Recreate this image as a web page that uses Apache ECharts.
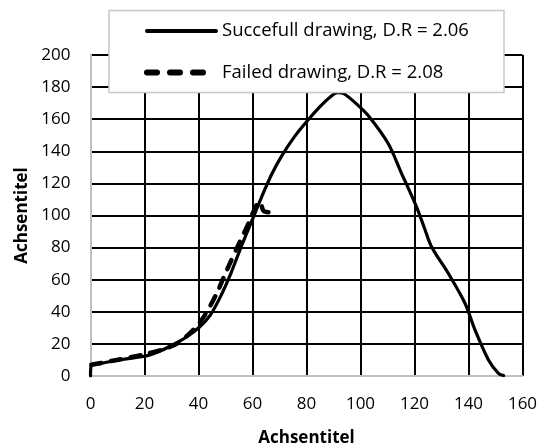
<!DOCTYPE html>
<html>
<head>
<meta charset="utf-8">
<script src="https://cdn.jsdelivr.net/npm/echarts@6/dist/echarts.min.js"></script>
<style>html,body{margin:0;padding:0;background:#fff}#c{width:541px;height:445px}</style>
</head>
<body>
<div id="c"></div>
<script>
var seriesNames = ['Succefull drawing, D.R = 2.06', 'Failed drawing, D.R = 2.08'];
var axisTitleX = 'Achsentitel';
var axisTitleY = 'Achsentitel';

var successX = [0, 0.3, 3.4, 9.8, 20, 25, 30, 35.3, 40.4, 44.3, 48, 52, 55.8, 59.6, 63.4, 67.2, 71, 75.5, 80, 85, 88.9, 91.5, 94, 99, 103, 110.2, 115.2, 120.7, 123.5, 126.3, 132.5, 138.7, 142.4, 147.4, 151.1, 153];
var successY = [0, 6.7, 7.7, 9.8, 12.3, 15, 19, 24, 30.5, 37.8, 49, 64, 80.5, 96, 111.6, 126, 137.6, 149, 158.4, 167.8, 174, 176.5, 175.7, 168.8, 162, 145, 126.3, 105.5, 93, 80.6, 64, 45.3, 28.7, 10, 1.7, 0.3];

var failedX = [0.3, 9.8, 20, 27.7, 32.8, 37.9, 42, 46.6, 50.5, 55, 58.5, 61.5, 62.8, 64, 66, 67.9];
var failedY = [7, 10, 13.5, 17, 21, 28.5, 37, 51, 66, 82.5, 95, 106.5, 108.5, 103, 102, 102.6];

function pairs(xs, ys) { return xs.map(function (x, i) { return [x, ys[i]]; }); }

var FONT = '"Open Sans", sans-serif';
var chart = echarts.init(document.getElementById('c'));
chart.setOption({
  animation: false,
  backgroundColor: '#fff',
  textStyle: { fontFamily: FONT, color: '#000' },
  grid: { left: 90.5, right: 18.5, top: 55, bottom: 69, containLabel: false, outerBoundsMode: 'none' },
  graphic: [{
    type: 'rect', z: 5,
    shape: { x: 109, y: 10.5, width: 395, height: 82 },
    style: { fill: '#fff', stroke: '#c8c8c8', lineWidth: 1.5 }
  }],
  legend: {
    orient: 'vertical',
    left: 109, top: 10.5, z: 6,
    padding: [11, 0, 11, 35],
    itemGap: 22.5,
    itemWidth: 69, itemHeight: 14,
    backgroundColor: 'transparent', borderWidth: 0,
    itemStyle: { opacity: 0 },
    textStyle: { fontFamily: FONT, fontSize: 18.5, color: '#000', padding: [0, 0, 0, 1] },
    data: [
      { name: seriesNames[0], lineStyle: { color: '#000', width: 4, type: 'solid', cap: 'round' } },
      { name: seriesNames[1], lineStyle: { color: '#000', width: 6, type: [10, 13], cap: 'round' } }
    ]
  },
  xAxis: {
    type: 'value', min: 0, max: 160, interval: 20,
    name: axisTitleX, nameLocation: 'middle', nameGap: 53.5,
    nameTextStyle: { fontFamily: FONT, fontSize: 17, fontWeight: 'bold', color: '#000' },
    axisLine: { show: true, lineStyle: { color: '#bfbfbf', width: 2 } },
    axisTick: { show: false },
    axisLabel: { fontFamily: FONT, fontSize: 17, color: '#000', margin: 20 },
    splitLine: { show: true, showMinLine: false, lineStyle: { color: '#000', width: 2 } }
  },
  yAxis: {
    type: 'value', min: 0, max: 200, interval: 20,
    name: axisTitleY, nameLocation: 'middle', nameGap: 58,
    nameTextStyle: { fontFamily: FONT, fontSize: 17, fontWeight: 'bold', color: '#000' },
    axisLine: { show: true, lineStyle: { color: '#bfbfbf', width: 2 } },
    axisTick: { show: false },
    axisLabel: { fontFamily: FONT, fontSize: 17, color: '#000', margin: 20 },
    splitLine: { show: true, showMinLine: false, lineStyle: { color: '#000', width: 2 } }
  },
  series: [
    {
      name: seriesNames[0], type: 'line', smooth: 0.3, symbol: 'none',
      data: pairs(successX, successY),
      lineStyle: { color: '#000', width: 3.2, cap: 'round', join: 'round' },
      itemStyle: { color: '#000' }, z: 3
    },
    {
      name: seriesNames[1], type: 'line', smooth: 0.3, symbol: 'none',
      data: pairs(failedX, failedY),
      lineStyle: { color: '#000', width: 4.5, type: [10, 10], cap: 'round', join: 'round' },
      itemStyle: { color: '#000' }, z: 4
    }
  ]
});
</script>
</body>
</html>
